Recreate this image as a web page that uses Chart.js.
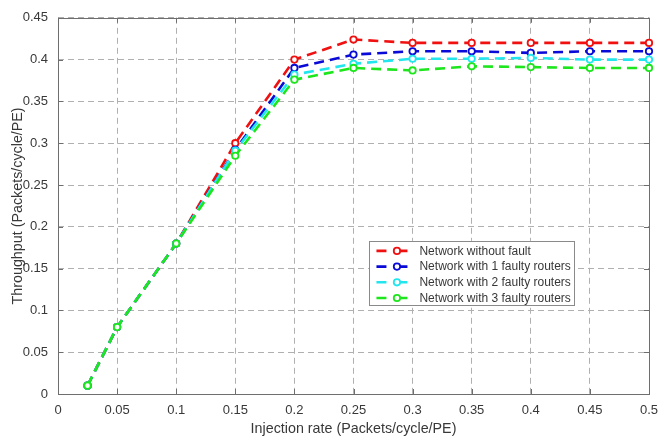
<!DOCTYPE html>
<html lang="en">
<head>
    <meta charset="UTF-8">
    <title>Throughput vs injection rate</title>
    <script src="https://cdn.jsdelivr.net/npm/chart.js"></script>
    <style>
        body { margin: 0; background: #fff; }
        #chart { display: block; }
    </style>
</head>
<body>
    <canvas id="chart" width="658" height="441"></canvas>
    <script>
        // injection rate (x) and throughput per configuration
        const injectionRates = [0.025, 0.05, 0.1, 0.15, 0.2, 0.25, 0.3, 0.35, 0.4, 0.45, 0.5];
        const noFault     = [0.01, 0.08, 0.18, 0.300, 0.400, 0.424, 0.420, 0.420, 0.420, 0.420, 0.420];
        const oneFaulty   = [0.01, 0.08, 0.18, 0.292, 0.390, 0.406, 0.410, 0.410, 0.408, 0.410, 0.410];
        const twoFaulty   = [0.01, 0.08, 0.18, 0.291, 0.382, 0.395, 0.401, 0.401, 0.402, 0.400, 0.400];
        const threeFaulty = [0.01, 0.08, 0.18, 0.285, 0.376, 0.390, 0.387, 0.392, 0.391, 0.390, 0.390];

        const seriesNames = ['Network without fault', 'Network with 1 faulty routers', 'Network with 2 faulty routers', 'Network with 3 faulty routers'];
        const seriesColors = ['#f01010', '#0a0ad8', '#22e6ee', '#1de61d'];

        const xTickLabels = ['0', '0.05', '0.1', '0.15', '0.2', '0.25', '0.3', '0.35', '0.4', '0.45', '0.5'];
        const yTickLabels = ['0', '0.05', '0.1', '0.15', '0.2', '0.25', '0.3', '0.35', '0.4', '0.45'];

        const textColor = '#383838';
        const fontFamily = '"Liberation Sans", Arial, sans-serif';

        const allSeries = [noFault, oneFaulty, twoFaulty, threeFaulty];
        const datasets = allSeries.map((vals, i) => ({
            label: seriesNames[i],
            data: vals.map((v, j) => ({ x: injectionRates[j], y: v })),
            borderColor: seriesColors[i],
            backgroundColor: '#fff',
            pointBackgroundColor: '#fff',
            pointBorderColor: seriesColors[i],
            pointBorderWidth: 1.8,
            pointRadius: 3.2,
            borderWidth: 2.6,
            borderDash: [10, 6],
            tension: 0,
            clip: 6,
            order: allSeries.length - 1 - i // green on top
        }));

        // box, inward ticks and legend in MATLAB style
        const matlabBox = {
            id: 'matlabBox',
            beforeDatasetsDraw(chart) {
                const ctx = chart.ctx;
                const a = chart.chartArea;
                const xs = chart.scales.x, ys = chart.scales.y;
                ctx.save();
                ctx.strokeStyle = '#6e6e6e';
                ctx.lineWidth = 1;
                ctx.beginPath();
                xs.ticks.forEach(t => {
                    const px = Math.round(xs.getPixelForValue(t.value)) + 0.5;
                    ctx.moveTo(px, a.bottom); ctx.lineTo(px, a.bottom - 5);
                    ctx.moveTo(px, a.top); ctx.lineTo(px, a.top + 5);
                });
                ys.ticks.forEach(t => {
                    const py = Math.round(ys.getPixelForValue(t.value)) + 0.5;
                    ctx.moveTo(a.left, py); ctx.lineTo(a.left + 5, py);
                    ctx.moveTo(a.right, py); ctx.lineTo(a.right - 5, py);
                });
                ctx.stroke();
                ctx.strokeRect(Math.round(a.left) + 0.5, Math.round(a.top) + 0.5,
                    Math.round(a.right - a.left), Math.round(a.bottom - a.top));
                ctx.restore();
            },
            afterDatasetsDraw(chart) {
                const ctx = chart.ctx;
                const a = chart.chartArea;
                ctx.save();
                // legend
                const lx = a.left + (a.right - a.left) * 0.527;
                const ly = a.top + (a.bottom - a.top) * 0.593;
                const w = 205, h = 64, rowH = 15.7;
                ctx.fillStyle = '#fff';
                ctx.fillRect(lx, ly, w, h);
                ctx.strokeStyle = '#8a8a8a';
                ctx.lineWidth = 1;
                ctx.strokeRect(Math.round(lx) + 0.5, Math.round(ly) + 0.5, w, h);
                ctx.font = '12px ' + fontFamily;
                ctx.textBaseline = 'middle';
                seriesNames.forEach((name, i) => {
                    const cy = ly + 10 + i * rowH;
                    ctx.strokeStyle = seriesColors[i];
                    ctx.lineWidth = 2.6;
                    ctx.beginPath();
                    ctx.moveTo(lx + 7, cy); ctx.lineTo(lx + 17, cy);
                    ctx.moveTo(lx + 27, cy); ctx.lineTo(lx + 38, cy);
                    ctx.stroke();
                    ctx.lineWidth = 1.8;
                    ctx.fillStyle = '#fff';
                    ctx.beginPath();
                    ctx.arc(lx + 27.5, cy, 3.2, 0, Math.PI * 2);
                    ctx.fill();
                    ctx.stroke();
                    ctx.fillStyle = textColor;
                    ctx.fillText(name, lx + 50, cy + 0.5);
                });
                ctx.restore();
            }
        };

        new Chart(document.getElementById('chart'), {
            type: 'line',
            data: { datasets: datasets },
            options: {
                responsive: false,
                animation: false,
                layout: { padding: { top: 14, right: 9, left: 0, bottom: 0 } },
                plugins: { legend: { display: false }, tooltip: { enabled: false } },
                scales: {
                    x: {
                        type: 'linear',
                        min: 0, max: 0.5,
                        afterFit: s => { s.height = 47; s.paddingLeft = 0; s.paddingRight = 0; },
                        ticks: {
                            stepSize: 0.05,
                            padding: 9,
                            color: textColor,
                            font: { family: fontFamily, size: 13 },
                            maxRotation: 0,
                            callback: (v, i) => xTickLabels[i]
                        },
                        grid: { color: '#b0b0b0', lineWidth: 1, drawTicks: false },
                        border: { display: false, dash: [6, 4] },
                        title: {
                            display: true,
                            text: 'Injection rate (Packets/cycle/PE)',
                            color: textColor,
                            font: { family: fontFamily, size: 14.3 },
                            padding: { top: 0, bottom: 3 }
                        }
                    },
                    y: {
                        min: 0, max: 0.45,
                        afterFit: s => { s.width = 58; },
                        ticks: {
                            stepSize: 0.05,
                            padding: 10,
                            color: textColor,
                            font: { family: fontFamily, size: 13 },
                            callback: (v, i) => yTickLabels[i]
                        },
                        grid: { color: '#b0b0b0', lineWidth: 1, drawTicks: false },
                        border: { display: false, dash: [6, 4] },
                        title: {
                            display: true,
                            text: 'Throughput (Packets/cycle/PE)',
                            color: textColor,
                            font: { family: fontFamily, size: 14.3 },
                            padding: { top: 9, bottom: 0 }
                        }
                    }
                }
            },
            plugins: [matlabBox]
        });
    </script>
</body>
</html>
